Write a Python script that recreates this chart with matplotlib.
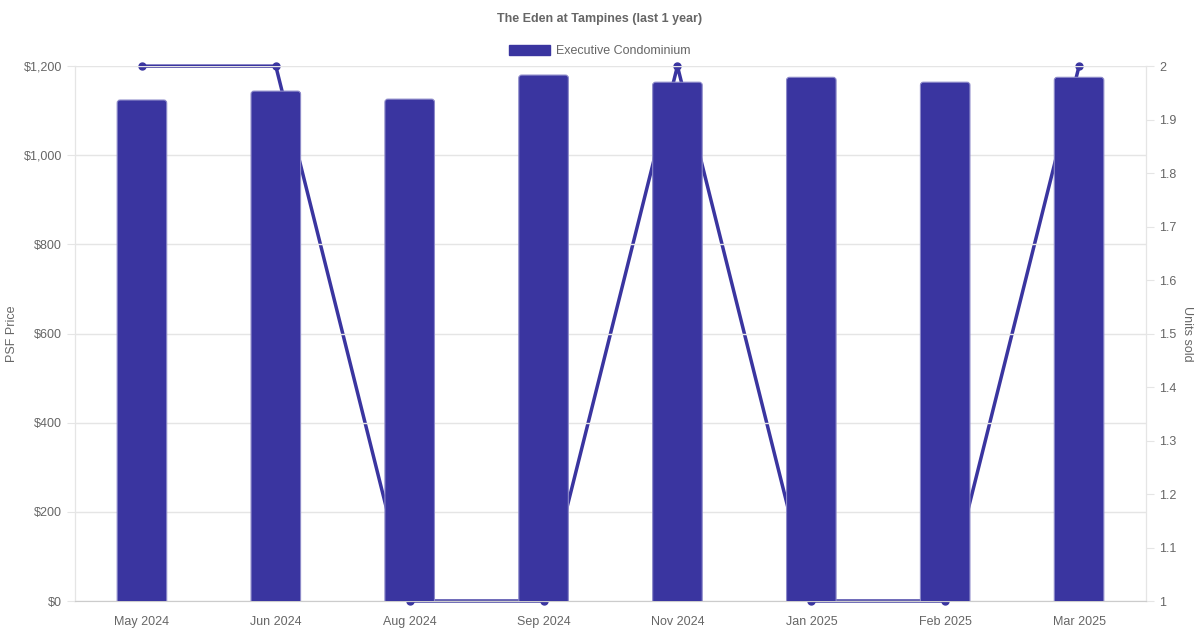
import matplotlib
matplotlib.use("Agg")
import matplotlib.pyplot as plt
from matplotlib.patches import FancyBboxPatch
from matplotlib.ticker import FuncFormatter, MultipleLocator

plt.rcParams['font.family'] = ['Liberation Sans', 'DejaVu Sans']

months = ['May 2024', 'Jun 2024', 'Aug 2024', 'Sep 2024', 'Nov 2024', 'Jan 2025', 'Feb 2025', 'Mar 2025']
psf = [1124, 1144, 1126, 1180, 1164, 1175, 1164, 1175]
units = [2, 2, 1, 1, 2, 1, 1, 2]

BLUE = '#3a35a0'
EDGE = '#8c89c9'
TXT = '#666666'
GRID = '#e5e5e5'

fig = plt.figure(figsize=(12, 6.3), dpi=100)
ax = fig.add_axes([0.0625, 0.046, 0.8925, 0.849])
ax2 = ax.twinx()

x = list(range(len(months)))
bars = ax.bar(x, psf, width=0.37, color=BLUE, edgecolor=EDGE, linewidth=0.8, zorder=3)
# swap plain bars for ones with slightly rounded top corners (bottom hidden under the axis)
for b in bars:
    bx, by = b.get_x(), b.get_y()
    w, h = b.get_width(), b.get_height()
    b.set_visible(False)
    ax.add_patch(FancyBboxPatch((bx, by - 20), w, h + 20,
                                boxstyle='round,pad=0,rounding_size=0.022',
                                mutation_aspect=300, facecolor=BLUE, edgecolor=EDGE,
                                linewidth=0.8, zorder=3))
ax.set_zorder(2)
ax.patch.set_visible(False)
ax2.set_zorder(1)
ax2.plot(x, units, color=BLUE, linewidth=2.5, marker='o', markersize=5, clip_on=False)

ax.set_xlim(-0.5, len(months) - 0.5)
ax.set_ylim(0, 1200)
ax2.set_ylim(1, 2)
ax.yaxis.set_major_locator(MultipleLocator(200))
ax.yaxis.set_major_formatter(FuncFormatter(lambda v, p: '${:,.0f}'.format(v)))
ax2.yaxis.set_major_locator(MultipleLocator(0.1))
ax2.yaxis.set_major_formatter(FuncFormatter(lambda v, p: '{:g}'.format(round(v, 1))))

ax.set_xticks(x)
ax.set_xticklabels(months)
ax.grid(axis='y', color=GRID, linewidth=1, zorder=0)
ax2.grid(False)

for a in (ax, ax2):
    a.tick_params(colors=TXT, labelsize=9, length=6, width=0.8)
    a.tick_params(axis='y', color=GRID)
    a.tick_params(axis='x', length=0, pad=11)
    for s in a.spines.values():
        s.set_color(GRID)
    a.spines['top'].set_visible(False)
ax.spines['bottom'].set_color('#cccccc')

ax.set_ylabel('PSF Price', color=TXT, fontsize=9, va='center')
ax.yaxis.set_label_coords(-0.0588, 0.5)
ax2.set_ylabel('Units sold', color=TXT, fontsize=9, rotation=-90, va='center')
ax2.yaxis.set_label_coords(1.038, 0.5)

fig.suptitle('The Eden at Tampines (last 1 year)', x=0.5, y=0.98, fontsize=9, fontweight='bold', color=TXT)
leg = fig.legend(handles=[plt.Rectangle((0, 0), 1, 1, color=BLUE)], labels=['Executive Condominium'],
                 loc='center', bbox_to_anchor=(0.5, 0.919), frameon=False, fontsize=9,
                 handlelength=3.3, handleheight=0.9, labelcolor=TXT, handletextpad=0.5)

fig.savefig('out.png', dpi=100)
